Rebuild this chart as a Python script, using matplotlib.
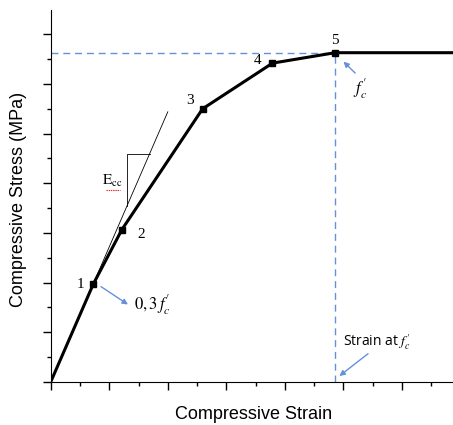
import matplotlib
matplotlib.use("Agg")
import matplotlib.pyplot as plt
from matplotlib.ticker import MultipleLocator

plt.rcParams['mathtext.fontset'] = 'stix'

# stress-strain curve points (arbitrary units)
strain = [0.0, 0.727, 1.217, 2.594, 3.788, 4.857, 6.9]
stress = [0.0, 1.97, 3.07, 5.50, 6.42, 6.63, 6.63]
point_labels = ['1', '2', '3', '4', '5']

# tangent (initial modulus) line and the little slope triangle
tan_x = [0.0, 2.0]
tan_y = [0.0, 5.44]
tri_x = [1.297, 1.297, 1.697]
tri_y = [3.55, 4.59, 4.59]

peak_strain = 4.857
peak_stress = 6.63

fig = plt.figure(figsize=(4.53, 4.25), dpi=100)
ax = fig.add_axes([0.1119, 0.1012, 0.888, 0.8753])

blue = '#6690d8'
ax.plot([0, peak_strain], [peak_stress, peak_stress], color=blue, lw=1.0,
        dashes=(5, 3.5))
ax.plot([peak_strain, peak_strain], [0, peak_stress], color=blue, lw=1.0,
        dashes=(5, 3.5))

ax.plot(tan_x, tan_y, color='black', lw=0.6)
ax.plot(tri_x, tri_y, color='black', lw=0.6)

ax.plot(strain, stress, color='black', lw=2.2, solid_joinstyle='miter')
ax.plot(strain[1:6], stress[1:6], 's', color='black', ms=4.5)

serif = 'Liberation Serif'
lbl_pos = [(-0.22, 0.0), (0.32, -0.1), (-0.22, 0.17), (-0.25, 0.06), (0.0, 0.24)]
for (dx, dy), x, y, t in zip(lbl_pos, strain[1:6], stress[1:6], point_labels):
    ax.text(x + dx, y + dy, t, family=serif, fontsize=11,
            ha='center', va='center')

ax.text(1.06, 4.04, r'$\mathrm{E}_{\mathrm{cc}}$', fontsize=11, ha='center', va='center')
ax.plot([0.95, 1.19], [3.87, 3.87], color='#e02020', lw=0.8, ls=(0, (1.2, 0.8)))

ax.annotate('', xy=(1.32, 1.56), xytext=(0.86, 1.92),
            arrowprops=dict(arrowstyle='-|>', color=blue, lw=1.0,
                            mutation_scale=8, shrinkA=0, shrinkB=0))
ax.text(1.42, 1.56, r'$0,3\,f_c^{\prime}$', fontsize=12, ha='left', va='center')

ax.annotate('', xy=(5.0, 6.45), xytext=(5.2, 6.22),
            arrowprops=dict(arrowstyle='-|>', color=blue, lw=1.0,
                            mutation_scale=8, shrinkA=0, shrinkB=0))
ax.text(5.28, 5.9, r'$f_c^{\prime}$', fontsize=12, ha='center', va='center')

ax.annotate('', xy=(4.93, 0.12), xytext=(5.42, 0.57),
            arrowprops=dict(arrowstyle='-|>', color=blue, lw=1.0,
                            mutation_scale=8, shrinkA=0, shrinkB=0))
ax.text(5.0, 0.8, r'Strain at $f_c^{\prime}$', family='Open Sans', fontsize=10,
        ha='left', va='center')

ax.set_xlim(0, 6.87)
ax.set_ylim(0, 7.49)
ax.spines['top'].set_visible(False)
ax.spines['right'].set_visible(False)
ax.xaxis.set_major_locator(MultipleLocator(1))
ax.xaxis.set_minor_locator(MultipleLocator(0.5))
ax.yaxis.set_major_locator(MultipleLocator(1))
ax.yaxis.set_minor_locator(MultipleLocator(0.5))
ax.tick_params(which='major', length=6, width=1.0, labelbottom=False, labelleft=False)
ax.tick_params(which='minor', length=3, width=1.0)

fig.text(0.56, 0.024, 'Compressive Strain', family='Liberation Sans',
         fontsize=13, ha='center', va='center')
fig.text(0.04, 0.53, 'Compressive Stress (MPa)', family='Liberation Sans',
         fontsize=13, ha='center', va='center', rotation=90)

fig.savefig('out.png', dpi=100)
